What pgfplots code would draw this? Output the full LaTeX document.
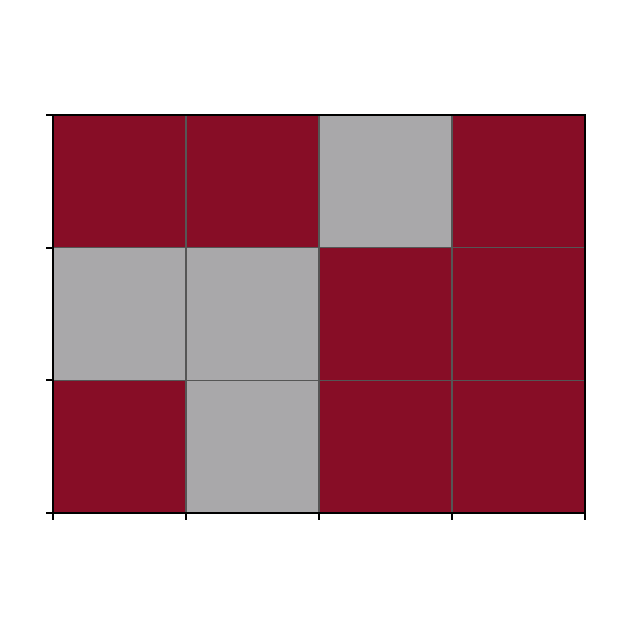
\documentclass[border=0pt]{standalone}
\usepackage{pgfplots}
\pgfplotsset{compat=1.18}
\definecolor{cred}{HTML}{870D26}
\definecolor{cgray}{HTML}{A9A8AA}
\definecolor{cgrid}{HTML}{555555}
\begin{document}
\begin{tikzpicture}[x=1pt,y=1pt]
\useasboundingbox (0,0) rectangle (629,629);
\begin{axis}[
  at={(53pt,116pt)}, anchor=south west,
  scale only axis, width=532pt, height=398pt,
  xmin=0, xmax=4, ymin=0, ymax=3,
  xtick={0,1,2,3,4}, ytick={0,1,2,3},
  xticklabels={}, yticklabels={},
  xtick pos=left, ytick pos=left,
  tick align=outside, major tick length=7pt,
  tick style={line width=2pt, black},
  axis line style={line width=2.8pt, black},
  axis on top,
  cell/.style={draw=none, no marks},
]
% bottom row
\addplot[cell, fill=cred]  coordinates {(0,0) (1,0) (1,1) (0,1)} --cycle;
\addplot[cell, fill=cgray] coordinates {(1,0) (2,0) (2,1) (1,1)} --cycle;
\addplot[cell, fill=cred]  coordinates {(2,0) (3,0) (3,1) (2,1)} --cycle;
\addplot[cell, fill=cred]  coordinates {(3,0) (4,0) (4,1) (3,1)} --cycle;
% middle row
\addplot[cell, fill=cgray] coordinates {(0,1) (1,1) (1,2) (0,2)} --cycle;
\addplot[cell, fill=cgray] coordinates {(1,1) (2,1) (2,2) (1,2)} --cycle;
\addplot[cell, fill=cred]  coordinates {(2,1) (3,1) (3,2) (2,2)} --cycle;
\addplot[cell, fill=cred]  coordinates {(3,1) (4,1) (4,2) (3,2)} --cycle;
% top row
\addplot[cell, fill=cred]  coordinates {(0,2) (1,2) (1,3) (0,3)} --cycle;
\addplot[cell, fill=cred]  coordinates {(1,2) (2,2) (2,3) (1,3)} --cycle;
\addplot[cell, fill=cgray] coordinates {(2,2) (3,2) (3,3) (2,3)} --cycle;
\addplot[cell, fill=cred]  coordinates {(3,2) (4,2) (4,3) (3,3)} --cycle;
% cell borders
\addplot[cgrid, line width=1.4pt, no marks] coordinates {(1,0) (1,3)};
\addplot[cgrid, line width=1.4pt, no marks] coordinates {(2,0) (2,3)};
\addplot[cgrid, line width=1.4pt, no marks] coordinates {(3,0) (3,3)};
\addplot[cgrid, line width=1.4pt, no marks] coordinates {(0,1) (4,1)};
\addplot[cgrid, line width=1.4pt, no marks] coordinates {(0,2) (4,2)};
\end{axis}
\end{tikzpicture}
\end{document}
